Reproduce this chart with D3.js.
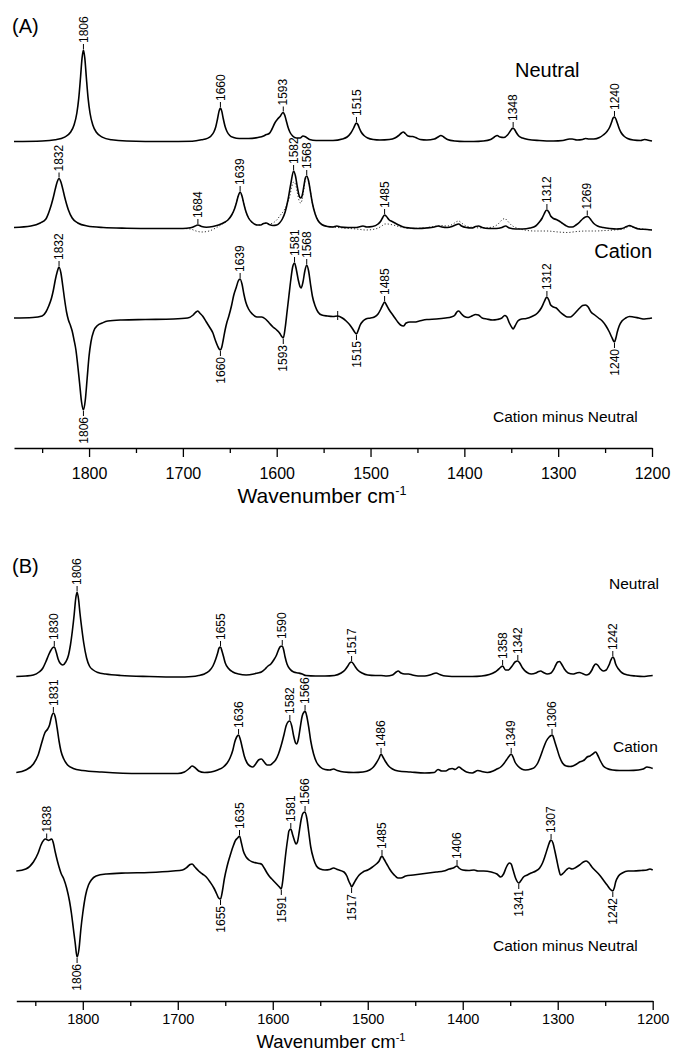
<!DOCTYPE html>
<html>
<head>
<meta charset="utf-8">
<title>IR spectra neutral / cation</title>
<style>
  body{margin:0;background:#fff;}
  svg text{font-family:"Liberation Sans",Arial,sans-serif;fill:#000;}
  .spec{fill:none;stroke:#000;stroke-width:1.6;stroke-linejoin:round;}
  .dots{fill:none;stroke:#333;stroke-width:1;stroke-dasharray:1.2,2;}
  .axis path,.axis line{stroke:#000;stroke-width:1.3;}
  .peak line{stroke:#000;stroke-width:1;}
  .peak text{font-size:12px;}
</style>
</head>
<body>
<div id="chart"></div>
<script src="https://cdn.jsdelivr.net/npm/d3@7"></script>
<script>
// ---- data: [wavenumber, intensity] ----
var neutralA = [[1880,0.5],[1850,1],[1836,2.2],[1826,4.9],[1820,9.5],[1816,17],[1813,29],[1811,43.6],[1809,65.8],[1807.5,83.6],[1806,92],[1804.5,83.6],[1803,65.8],[1801,43.6],[1799,29],[1796,17],[1792,9.5],[1786,4.9],[1776,2.2],[1760,1],[1720,0.5],[1690,0.8],[1680,2.2],[1674,3.6],[1670,6],[1667,10],[1665,15],[1663,23.5],[1661.5,30.6],[1660,34],[1658.5,30.6],[1657,23.5],[1655,15.5],[1653,10.5],[1650,6.5],[1646,4.5],[1640,3.5],[1630,3.5],[1620,4.5],[1614,6],[1611,7.5],[1608,8.5],[1605,13],[1602,19],[1599,23],[1596,26],[1594,29],[1593,29.5],[1591.5,27],[1590,22],[1588,15],[1586,10],[1583,6],[1579,4],[1575,4],[1572,6],[1569,5],[1565,2.5],[1558,1.5],[1545,1.5],[1540,1.5],[1530,3],[1525,5],[1521,9],[1518,14],[1516,18],[1515,19],[1513.5,17.5],[1512,14],[1510,10],[1507,6.5],[1503,4],[1497,2.5],[1490,2],[1480,2.5],[1474,4],[1470,6.5],[1467,9],[1465,10],[1463,8.5],[1460,6],[1457,5.5],[1455,5.5],[1452,4.5],[1447,2.5],[1440,2],[1432,3],[1428,5],[1425,6.5],[1422,5],[1418,2.5],[1410,1],[1400,0.5],[1390,0.5],[1380,1],[1372,2.5],[1368,5],[1365,6.5],[1362,5],[1358,4.5],[1354,7],[1351,11],[1349,13.5],[1348,14],[1346.5,12.5],[1345,10],[1342,6],[1338,4],[1332,2.5],[1320,1.5],[1305,1],[1295,1.5],[1288,3],[1285,3],[1280,2],[1274,2.5],[1271,3.5],[1267,3],[1262,3],[1256,4.5],[1252,7],[1248,10.5],[1245,15],[1243,20],[1241.5,24],[1240,25],[1238.5,23],[1237,19],[1235,13.5],[1233,9.5],[1230,6],[1226,3.5],[1220,2],[1212,1.5],[1208,2.5],[1205,2],[1200,1]];

var cationA = [[1880,1.5],[1862,3],[1852,6],[1846,10],[1842,19],[1840,25],[1838,32],[1836,40],[1834,47],[1832,50.5],[1830,47],[1828,40],[1826,32],[1824,25],[1822,19],[1818,11],[1812,6],[1802,3],[1785,1.5],[1760,0.8],[1730,0.5],[1700,0.5],[1692,1.2],[1688,2.5],[1684,4],[1680,2.5],[1675,1.8],[1668,2.5],[1662,4],[1655,7],[1652,9],[1648,14],[1645,20],[1643,26],[1641,33],[1639,37],[1637,33],[1635,25],[1633,18],[1630,11],[1626,6.5],[1621,4],[1617,4],[1614,5.5],[1611,6],[1608,4.5],[1604,3.5],[1600,4],[1597,6],[1594,10],[1591,17],[1588,29],[1585,45],[1582,58],[1580,53],[1578,42],[1576,33],[1574.5,31],[1573,33],[1571,43],[1569.5,51],[1568,53],[1566,48],[1564,37],[1562,26],[1559,15],[1556,8.5],[1552,4.5],[1546,2.5],[1540,2],[1536,3],[1532,2],[1524,1.5],[1515,1.5],[1508,3],[1504,2],[1498,2.5],[1492,5],[1489,8],[1487,11.5],[1485,14],[1483,12.5],[1480,9],[1477,7.5],[1474,6],[1470,4],[1465,2],[1458,1],[1450,0.5],[1440,1],[1432,2],[1428,3],[1424,2],[1418,1.5],[1412,3],[1408,4.5],[1406,5],[1403,3],[1398,1.5],[1392,1],[1388,2.5],[1385,3],[1381,1.5],[1374,0.5],[1366,0.5],[1360,1.5],[1356,3],[1352,1],[1345,0],[1338,0],[1330,1],[1324,3],[1320,7],[1317,11],[1315,15],[1313,18.5],[1312,19],[1310,17],[1308,13],[1305,10.5],[1302,9.5],[1299,8],[1296,6],[1292,3.5],[1288,2],[1285,2],[1281,4],[1277,7],[1274,10],[1271,12],[1269,12.5],[1267,11.5],[1265,9],[1262,5.5],[1258,3],[1252,1.5],[1245,0.5],[1238,0],[1232,0.5],[1227,2.5],[1224,3.5],[1220,2],[1214,0],[1205,-0.5],[1200,-1]];

// dotted trace drawn under the cation spectrum
var cationDotsA = [[1700,0.5],[1692,0],[1686,-2],[1680,-3],[1672,-2],[1665,1],[1658,5],[1652,9],[1648,14],[1645,20],[1643,26],[1641,33],[1639,36],[1637,33],[1635,25],[1633,18],[1630,11],[1626,6.5],[1621,4],[1617,4],[1614,5.5],[1611,6],[1608,5],[1604,6],[1600,9],[1596,14],[1592,19],[1589,25],[1586,33],[1584,42],[1582,47],[1580,45],[1578,36],[1576,28],[1574.5,26],[1573,29],[1571,40],[1569.5,49],[1568,52],[1566,48],[1564,37],[1562,26],[1559,15],[1556,8.5],[1552,4.5],[1546,2.5],[1540,2],[1530,1],[1515,0],[1505,-1],[1495,0],[1488,3],[1485,5],[1482,5],[1476,4],[1468,2],[1458,0.5],[1445,1],[1432,2.5],[1425,3.5],[1418,3],[1412,5],[1408,7.5],[1406,8],[1403,6],[1398,3],[1390,1.5],[1380,1],[1370,2],[1364,5],[1360,9],[1357,10.5],[1354,8],[1350,4],[1344,1],[1336,-1],[1325,-2],[1312,-2],[1300,-3],[1290,-3.5],[1280,-2.5],[1270,-2],[1260,-2],[1250,-1.5],[1240,-1],[1230,0],[1224,2.5],[1220,1.5],[1210,0],[1200,-1]];

var diffA = [[1880,0],[1860,0.5],[1850,2],[1846,6],[1843,12],[1840,20],[1838,28],[1836,38],[1834,46],[1832,51],[1830,45],[1828,32],[1826,18],[1824,6],[1822,-2],[1820,-7],[1818,-13],[1816,-22],[1814,-32],[1812,-48],[1810,-66],[1808,-84],[1806,-92],[1804,-82],[1802,-60],[1800,-38],[1798,-24],[1795,-13],[1791,-7.5],[1786,-5],[1780,-3],[1765,-2],[1740,-1.5],[1710,-1],[1695,0],[1689,3],[1686,6],[1684,7],[1682,5],[1679,2],[1675,-4],[1671,-10],[1668,-15],[1665.5,-22],[1663,-28],[1661,-31.5],[1660,-32],[1658.5,-29],[1657,-22],[1655,-12],[1653,-4],[1651,2],[1648,13],[1646,22],[1643,31],[1641,37],[1639,39],[1637,34],[1635,24],[1633,16],[1630,9],[1626,4],[1621,1],[1616,1],[1612,-1],[1608,-5],[1604,-9],[1600,-12],[1597,-15],[1595,-18],[1593,-20],[1591,-10],[1589,6],[1587,22],[1585,38],[1583,51],[1581,55],[1579,48],[1577,38],[1575,31],[1574,30],[1572,36],[1570,47],[1568,53],[1566,47],[1564,34],[1562,22],[1559,12],[1556,6],[1552,3],[1546,2],[1540,1.5],[1535,2],[1530,0],[1526,-3],[1522,-7],[1519,-11],[1517,-14],[1515,-16],[1513,-12],[1511,-7],[1508,-3],[1505,-1],[1500,0],[1496,1],[1492,4],[1489,9],[1487,13],[1485,16],[1483,13],[1480,8],[1477,4],[1474,0],[1471,-4],[1468,-7],[1465,-8],[1462,-5],[1458,-4],[1453,-4],[1448,-3],[1440,-1.5],[1430,-1],[1420,0],[1414,1],[1410,3],[1408,6],[1406,7],[1403,4],[1400,1.5],[1396,0.5],[1392,2],[1388,3.5],[1385,3],[1381,0],[1376,-1],[1370,-2],[1365,-1.5],[1360,0],[1357,2.5],[1355,1.5],[1352,-5],[1349,-10],[1348,-11],[1346,-8],[1343,-3],[1339,-1],[1334,-0.5],[1328,1.5],[1322,5],[1318,10],[1315,16],[1313,20],[1312,21],[1310,18],[1308,13],[1305,11],[1302,10],[1298,6],[1294,3],[1290,1],[1287,1],[1283,4],[1280,7],[1277,10],[1274,12.5],[1271,13],[1268,11],[1265,6],[1261,3],[1257,0],[1253,-3],[1249,-8],[1246,-13],[1243,-19],[1241,-23],[1240,-24],[1238.5,-20],[1237,-14],[1235,-8],[1232,-3],[1228,0],[1224,1.5],[1220,1],[1214,0],[1208,-1],[1203,-0.5],[1200,0]];

var neutralB = [[1870,0.5],[1860,1],[1852,2],[1846,5],[1842,9],[1839,15],[1836,22],[1834,26],[1832,29],[1830,30],[1828,25],[1826,18],[1824,14],[1821,12],[1818,15],[1815,22],[1813,32],[1811,46],[1809,63],[1807.5,78],[1806,85],[1804.5,78],[1803,64],[1801,48],[1799,34],[1796,19],[1793,11],[1789,7],[1784,4.5],[1776,3],[1760,1.5],[1730,0.5],[1700,0],[1685,0.5],[1678,1.5],[1672,3],[1667,6],[1663,11],[1660,18],[1658,24],[1656.5,29],[1655,30],[1653.5,26],[1652,21],[1650,14],[1647,9],[1642,5],[1636,3],[1628,2],[1620,3],[1616,4],[1612,5],[1608,8],[1605,11],[1602,13],[1599,17],[1596,22],[1594,27],[1592,30.5],[1590,31],[1588.5,27],[1587,20],[1585,13],[1582,8],[1578,5],[1573,4],[1569,3],[1565,1.5],[1555,1],[1545,1],[1535,1.5],[1528,4],[1524,7],[1521,11],[1519,14],[1517,15],[1515,13],[1513,10],[1510,6.5],[1506,4],[1500,2],[1492,1.5],[1486,1.5],[1480,1],[1474,2],[1470,5],[1468,6],[1465,4],[1461,3],[1457,3],[1453,2],[1447,1],[1440,1],[1433,2.5],[1428,4],[1424,2.5],[1418,1],[1405,0.5],[1390,0.5],[1380,1],[1372,2.5],[1366,5],[1362,8],[1358,11],[1355,7],[1352,7],[1348,11],[1345,15],[1342,16],[1340,14],[1337,9],[1333,5],[1328,3],[1323,4],[1320,5.5],[1318,6],[1315,4.5],[1311,3],[1307,4],[1304,8],[1302,12],[1300,15],[1298,15.5],[1296,13],[1293,8],[1289,4],[1284,3],[1280,4],[1277,4.5],[1274,3.5],[1270,2],[1267,3],[1264,7],[1262,11],[1260,13],[1258,12],[1255,8],[1252,6],[1249,7],[1246,12],[1244,17],[1242,20],[1240.5,18],[1239,13],[1236,8],[1232,4],[1226,2],[1218,1],[1210,0.5],[1205,1],[1200,1.5]];

var cationB = [[1870,-0.5],[1860,2],[1852,8],[1847,17],[1843,30],[1840,39],[1837,43],[1835,47],[1833,55],[1831,59],[1829,55],[1827,44],[1825,31],[1823,21],[1820,13],[1816,7],[1810,3.5],[1800,1.5],[1780,0],[1740,-1.5],[1700,-1.5],[1693,0],[1688,3.5],[1685,6],[1682,4.5],[1678,1],[1672,-0.5],[1665,0],[1658,2],[1652,5],[1648,9],[1645,14],[1642,22],[1640,30],[1638,35],[1636,37],[1634,32],[1632,24],[1630,16],[1627,9],[1624,6],[1621,5],[1618,8],[1615,12],[1612,13],[1609,10],[1606,7],[1603,7],[1600,9],[1597,12],[1594,18],[1591,27],[1588,38],[1586,46],[1584,50],[1582,51],[1580,46],[1578,36],[1576,29],[1575,28],[1573,33],[1571,45],[1569,56],[1567,60],[1566,61],[1564.5,57],[1562,44],[1560,31],[1557,18],[1554,10],[1550,5],[1545,2.5],[1540,2],[1536,3],[1532,1.5],[1525,0],[1515,-0.5],[1505,0],[1498,2],[1494,5],[1491,9],[1488,14],[1486,18],[1484,15],[1481,10],[1478,6],[1474,3],[1468,1],[1455,0],[1440,-1],[1430,-0.5],[1426,2.5],[1422,1],[1418,1],[1414,3],[1411,3.5],[1408,2.5],[1404,5],[1401,3],[1396,0],[1390,-1],[1384,1.5],[1380,0.5],[1374,-0.5],[1368,1],[1364,3],[1360,5],[1357,8],[1354,12],[1351,16],[1349,18],[1347,15],[1345,10],[1342,6],[1338,3],[1334,2],[1328,3],[1324,5],[1321,9],[1318,16],[1315,24],[1312,31],[1309,35],[1307,36.5],[1306,37],[1305,36],[1303,30],[1301,24],[1298,15],[1295,9],[1291,6],[1287,5.5],[1284,6],[1280,8],[1277,10],[1274,11],[1272,12],[1269,15],[1266,16],[1263,18],[1260,20],[1258,17],[1255,11],[1252,6],[1248,3.5],[1242,2],[1235,1.5],[1225,1.5],[1215,2],[1210,3],[1206,5],[1203,4.5],[1200,3.5]];

var diffB = [[1870,0],[1860,2],[1852,9],[1847,18],[1844,26],[1841,31],[1839.5,32],[1838,31.5],[1836,30.5],[1834,31.5],[1832.5,32],[1831,28],[1829,19],[1827,11],[1825,4],[1823,-2],[1820,-8],[1817,-17],[1814,-30],[1812,-42],[1810,-57],[1808,-72],[1806,-86],[1804,-78],[1802,-58],[1800,-42],[1797,-24],[1794,-14],[1791,-9],[1786,-5],[1775,-3],[1755,-2],[1730,-1.5],[1705,0],[1695,1],[1690,4],[1687,6.5],[1685,7],[1682,4],[1678,0],[1674,-3],[1670,-6],[1666,-11],[1662,-17],[1659,-23],[1657,-27],[1655,-28],[1653,-20],[1651,-8],[1648,5],[1645,15],[1642,24],[1639,31],[1637,33],[1635,35],[1633,28],[1631,20],[1628,14],[1625,11],[1621,9],[1617,8],[1614,7.5],[1612,7],[1609,3],[1606,-2],[1603,-6],[1600,-9],[1597,-12],[1594,-15],[1593,-16],[1591,-18],[1589.5,-10],[1588,3],[1586,20],[1584,34],[1583,40],[1581,42],[1579,36],[1577,30],[1575.5,27],[1574,29],[1572,40],[1570,52],[1568,58],[1566,59],[1564,52],[1562,38],[1560,24],[1557,12],[1554,5],[1550,2],[1545,1],[1540,1.5],[1536,3],[1532,1.5],[1525,-1],[1522,-5],[1520,-10],[1518,-14],[1517,-16],[1515,-13],[1512,-8],[1509,-4],[1505,-1],[1500,1],[1495,4],[1491,7],[1488,10],[1486,14],[1485,15],[1483,12],[1480,7],[1477,2],[1474,-2],[1471,-5],[1468,-7],[1465,-7],[1460,-5],[1452,-4],[1444,-3],[1436,-2],[1428,-1],[1420,0],[1414,2],[1410,3],[1406,5],[1404,3],[1400,1],[1394,0.5],[1388,1],[1384,0],[1378,0],[1370,-1],[1364,-3],[1360,-6],[1357,-3],[1354,4],[1351,8],[1349,7],[1347,1],[1344,-8],[1341,-12],[1339,-10],[1336,-6],[1332,-4],[1328,-2],[1323,0],[1319,3],[1316,8],[1313,16],[1310,25],[1308,30],[1307,31],[1305,28],[1303,20],[1301,11],[1299,2],[1297,-4],[1294,-2],[1291,1],[1288,3],[1285,2],[1281,3.5],[1277,6],[1273,9],[1270,10],[1267,8],[1264,4],[1260,0],[1256,-4],[1252,-9],[1248,-14],[1245,-18],[1242,-20],[1240.5,-17],[1239,-11],[1236,-5],[1232,-2],[1226,0],[1220,0],[1212,0.5],[1206,1],[1203,2],[1200,1]];

// peak labels
var peaksNeutralA = [1806, 1660, 1593, 1515, 1348, 1240];
var peaksCationA = [1832, 1684, 1639, 1582, 1568, 1485, 1312, 1269];
var peaksDiffAUp = [1832, 1639, 1581, 1568, 1485, 1312];
var peaksDiffADown = [1806, 1660, 1593, 1515, 1240];
var markDiffA = [1535];   // unlabelled marker tick
var peaksNeutralB = [1830, 1806, 1655, 1590, 1517, 1358, 1342, 1242];
var peaksCationB = [1831, 1636, 1582, 1566, 1486, 1349, 1306];
var peaksDiffBUp = [1838, 1635, 1581, 1566, 1485, 1406, 1307];
var peaksDiffBDown = [1806, 1655, 1591, 1517, 1341, 1242];

var majorTicks = [1800, 1700, 1600, 1500, 1400, 1300, 1200];
var minorTicks = [1850, 1750, 1650, 1550, 1450, 1350, 1250];

var svg = d3.select("#chart").append("svg").attr("width", 674).attr("height", 1054);

var xA = d3.scaleLinear().domain([1880, 1200]).range([14, 652]);
var yA = d3.scaleLinear().domain([-130, 318]).range([448, 0]);
var xB = d3.scaleLinear().domain([1870, 1200]).range([16.3, 652.7]);
var yB = d3.scaleLinear().domain([-130, 331]).range([1001, 540]);

function valueAt(data, w) {
  for (var i = 0; i < data.length - 1; i++) {
    var a = data[i], b = data[i + 1];
    if (w <= a[0] && w >= b[0]) {
      var t = (a[0] - w) / (a[0] - b[0]);
      return a[1] + t * (b[1] - a[1]);
    }
  }
  return 0;
}

function drawSpectrum(x, y, data, offset, cls) {
  var line = d3.line()
    .x(function (d) { return x(d[0]); })
    .y(function (d) { return y(d[1] + offset); })
    .curve(d3.curveMonotoneX);
  svg.append("path").datum(data).attr("class", cls).attr("d", line);
}

function drawPeaks(x, y, data, offset, peaks, dir) {
  var g = svg.append("g").attr("class", "peak");
  var s = dir === "up" ? -1 : 1;
  peaks.forEach(function (w) {
    var px = x(w), py = y(valueAt(data, w) + offset);
    g.append("line").attr("x1", px).attr("x2", px).attr("y1", py + s).attr("y2", py + s * 6);
    g.append("text")
      .attr("transform", "translate(" + px + "," + (py + s * 7) + ") rotate(-90)")
      .attr("dy", "0.35em")
      .attr("text-anchor", dir === "up" ? "start" : "end")
      .text(w);
  });
}

function drawMarks(x, y, data, offset, marks) {
  var g = svg.append("g").attr("class", "peak");
  marks.forEach(function (w) {
    var px = x(w), py = y(valueAt(data, w) + offset);
    g.append("line").attr("x1", px).attr("x2", px).attr("y1", py - 5).attr("y2", py + 4);
  });
}

function drawAxis(x, yPos, labelSize, pad) {
  var g = svg.append("g").attr("class", "axis").attr("transform", "translate(0," + yPos + ")")
    .call(d3.axisBottom(x).tickValues(majorTicks).tickSize(9).tickSizeOuter(0)
      .tickPadding(pad).tickFormat(d3.format("d")));
  g.selectAll("text").style("font-size", labelSize + "px");
  var m = svg.append("g").attr("class", "axis").attr("transform", "translate(0," + yPos + ")")
    .call(d3.axisBottom(x).tickValues(minorTicks).tickSize(5).tickFormat(""));
  m.select(".domain").remove();
}

function addText(x, y, txt, size, anchor) {
  return svg.append("text").attr("x", x).attr("y", y)
    .attr("text-anchor", anchor || "start").style("font-size", size + "px").text(txt);
}

function axisTitle(x, y, size) {
  var t = addText(x, y, "Wavenumber cm", size, "middle");
  t.append("tspan").attr("dy", -size * 0.38).style("font-size", (size * 0.6) + "px").text("-1");
}

// ---- panel A ----
var offA = {neutral: 176, cation: 89, diff: 0};
drawSpectrum(xA, yA, cationDotsA, offA.cation, "dots");
drawSpectrum(xA, yA, neutralA, offA.neutral, "spec");
drawSpectrum(xA, yA, cationA, offA.cation, "spec");
drawSpectrum(xA, yA, diffA, offA.diff, "spec");
drawPeaks(xA, yA, neutralA, offA.neutral, peaksNeutralA, "up");
drawPeaks(xA, yA, cationA, offA.cation, peaksCationA, "up");
drawPeaks(xA, yA, diffA, offA.diff, peaksDiffAUp, "up");
drawPeaks(xA, yA, diffA, offA.diff, peaksDiffADown, "down");
drawMarks(xA, yA, diffA, offA.diff, markDiffA);
drawAxis(xA, 448, 16, 11);
axisTitle(322, 503, 21);
addText(12, 33, "(A)", 20);
addText(515, 77, "Neutral", 20);
addText(652, 258, "Cation", 20, "end");
addText(493, 422, "Cation minus Neutral", 15.5);

// ---- panel B ----
var offB = {neutral: 194, cation: 99, diff: 0};
drawSpectrum(xB, yB, neutralB, offB.neutral, "spec");
drawSpectrum(xB, yB, cationB, offB.cation, "spec");
drawSpectrum(xB, yB, diffB, offB.diff, "spec");
drawPeaks(xB, yB, neutralB, offB.neutral, peaksNeutralB, "up");
drawPeaks(xB, yB, cationB, offB.cation, peaksCationB, "up");
drawPeaks(xB, yB, diffB, offB.diff, peaksDiffBUp, "up");
drawPeaks(xB, yB, diffB, offB.diff, peaksDiffBDown, "down");
drawAxis(xB, 1001, 14.5, 4);
axisTitle(331, 1048, 18.5);
addText(12, 573, "(B)", 20);
addText(609, 589, "Neutral", 15.5);
addText(613, 752, "Cation", 15.5);
addText(493, 951, "Cation minus Neutral", 15.5);
</script>
</body>
</html>
